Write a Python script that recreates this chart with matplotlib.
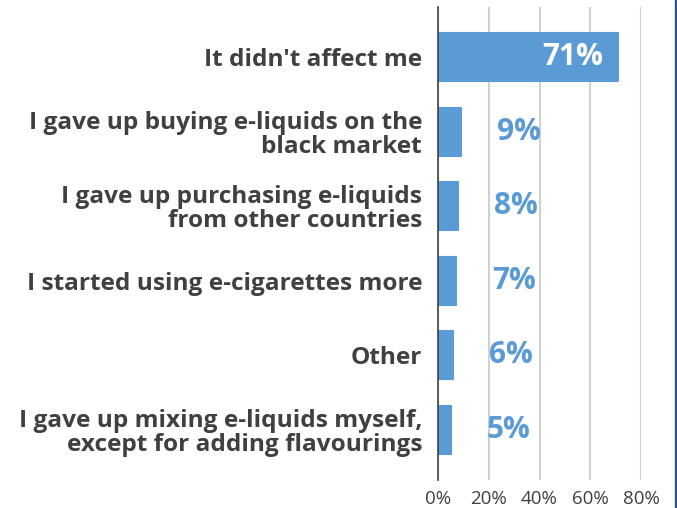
import matplotlib
matplotlib.use("Agg")
import matplotlib.pyplot as plt
from matplotlib.patches import Rectangle

categories = [
    "It didn't affect me",
    "I gave up buying e-liquids on the\nblack market",
    "I gave up purchasing e-liquids\nfrom other countries",
    "I started using e-cigarettes more",
    "Other",
    "I gave up mixing e-liquids myself,\nexcept for adding flavourings",
]
values = [71, 9, 8, 7, 6, 5]
xticks = [0, 20, 40, 60, 80]
xticklabels = ["0%", "20%", "40%", "60%", "80%"]

plt.rcParams['font.family'] = ['Open Sans', 'DejaVu Sans']

fig = plt.figure(figsize=(6.77, 5.08), dpi=100)
ax = fig.add_axes([438/677, 1 - 480/508, (641 - 438)/677, (480 - 7)/508])

bar_color = "#5b9bd5"
label_color = "#404040"
y = list(range(len(categories)))
ax.barh(y, values, height=0.64, color=bar_color, edgecolor=bar_color,
        linewidth=1.5, joinstyle="round", zorder=3)
ax.set_xlim(0, 80)
ax.set_ylim(5.675, -0.675)
ax.set_yticks(y)
ax.set_yticklabels(categories, fontsize=17.6, fontweight="bold", color=label_color,
                   linespacing=1.0)
ax.tick_params(axis="y", length=0, pad=11.5)
ax.set_xticks(xticks)
ax.set_xticklabels(xticklabels, fontsize=13.5, color=label_color)
ax.tick_params(axis="x", length=0, pad=7)
ax.grid(axis="x", color="#d0d0d0", linewidth=1.5, zorder=0)
for s in ["top", "right", "bottom"]:
    ax.spines[s].set_visible(False)
ax.spines["left"].set_color("#404040")
ax.spines["left"].set_linewidth(1.2)
ax.spines["left"].set_zorder(4)

for yi, v in zip(y, values):
    if v > 40:
        ax.annotate(f"{v}%", xy=(v, yi), xytext=(-11, 0), textcoords="offset points",
                    ha="right", va="center", fontsize=21.5, fontweight="bold",
                    color="white", zorder=5)
    else:
        ax.annotate(f"{v}%", xy=(v, yi), xytext=(26, 0), textcoords="offset points",
                    ha="left", va="center", fontsize=21.5, fontweight="bold",
                    color=bar_color, zorder=5)

fig.patches.append(Rectangle((675/677, 0), 2/677, 1, transform=fig.transFigure,
                             color="#1f5a8a", zorder=10))

fig.savefig("out.png", dpi=100)
